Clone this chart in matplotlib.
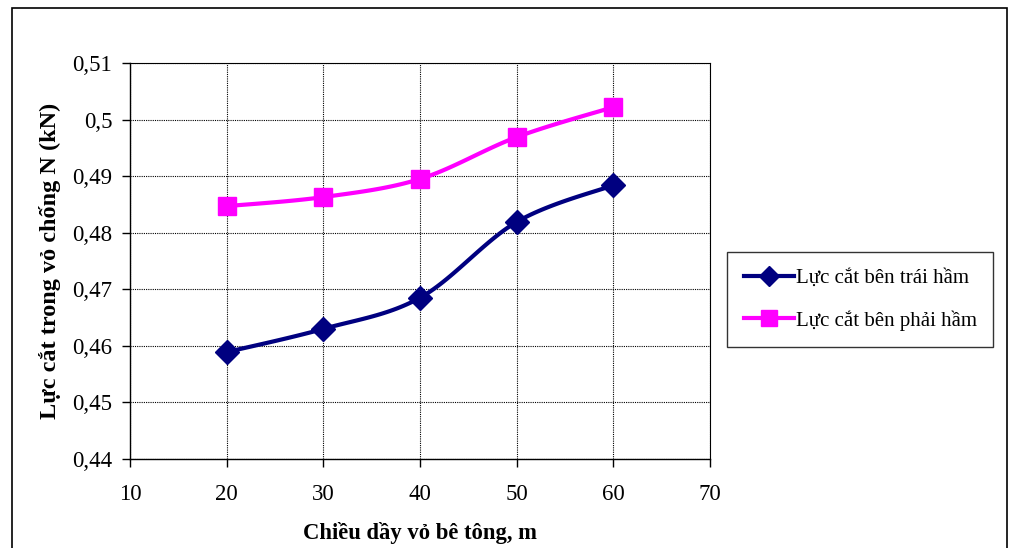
import numpy as np
import matplotlib
matplotlib.use("Agg")
import matplotlib.pyplot as plt
from matplotlib.patches import Rectangle
from matplotlib.ticker import FuncFormatter, MultipleLocator

plt.rcParams['font.family'] = ['Liberation Serif', 'DejaVu Serif']

thickness = [20, 30, 40, 50, 60]
left_force = [0.4589, 0.4630, 0.4685, 0.4819, 0.4884]
right_force = [0.4847, 0.4863, 0.4895, 0.4969, 0.5022]
series_names = ["Lực cắt bên trái hầm", "Lực cắt bên phải hầm"]
x_label = "Chiều dầy vỏ bê tông, m"
y_label = "Lực cắt trong vỏ chống N (kN)"


def smooth(x, y, n=30):
    """Catmull-Rom style smoothing through every point."""
    x = np.asarray(x, float)
    y = np.asarray(y, float)
    px = np.concatenate([[x[0]], x, [x[-1]]])
    py = np.concatenate([[y[0]], y, [y[-1]]])
    xs, ys = [], []
    t = np.linspace(0, 1, n)
    for i in range(1, len(px) - 2):
        p0 = np.array([px[i], py[i]])
        p3 = np.array([px[i + 1], py[i + 1]])
        c1 = p0 + (np.array([px[i + 1], py[i + 1]]) - np.array([px[i - 1], py[i - 1]])) / 6
        c2 = p3 - (np.array([px[i + 2], py[i + 2]]) - np.array([px[i], py[i]])) / 6
        b = ((1 - t) ** 3)[:, None] * p0 + (3 * (1 - t) ** 2 * t)[:, None] * c1 \
            + (3 * (1 - t) * t ** 2)[:, None] * c2 + (t ** 3)[:, None] * p3
        xs.extend(b[:, 0])
        ys.extend(b[:, 1])
    return np.array(xs), np.array(ys)


fig = plt.figure(figsize=(10.14, 5.48), dpi=100)
ax = fig.add_axes([130 / 1014, 89 / 548, 580 / 1014, 396 / 548])

navy = "#000080"
magenta = "#FF00FF"

sx, sy = smooth(thickness, left_force)
ax.plot(sx, sy, color=navy, lw=3, zorder=3)
ax.plot(thickness, left_force, ls="none", marker="D", ms=12, color=navy, zorder=4)
sx, sy = smooth(thickness, right_force)
ax.plot(sx, sy, color=magenta, lw=3, zorder=3)
ax.plot(thickness, right_force, ls="none", marker="s", ms=13.5, color=magenta, zorder=4)

# legend proxies
h1, = ax.plot([], [], color=navy, lw=3, marker="D", ms=10)
h2, = ax.plot([], [], color=magenta, lw=3, marker="s", ms=11)

ax.set_xlim(10, 70)
ax.set_ylim(0.44, 0.51)
ax.xaxis.set_major_locator(MultipleLocator(10))
ax.yaxis.set_major_locator(MultipleLocator(0.01))
ax.yaxis.set_major_formatter(FuncFormatter(lambda v, p: ("%g" % round(v, 4)).replace(".", ",")))

ax.grid(True, color="black", lw=0.8, ls=(0, (1, 1)))
ax.tick_params(direction="out", width=1, labelsize=16.5)
ax.tick_params(axis="y", length=5.8, pad=7)
ax.tick_params(axis="x", length=6, pad=12)
for s in ("left", "bottom"):
    ax.spines[s].set_color("black")
    ax.spines[s].set_linewidth(1)
for s in ("top", "right"):
    ax.spines[s].set_color("black")
    ax.spines[s].set_linewidth(0.8)
    ax.spines[s].set_linestyle((0, (1, 1)))

ax.set_xlabel(x_label, fontsize=16.3, fontweight="bold", labelpad=12)
ax.set_ylabel(y_label, fontsize=17.5, fontweight="bold", labelpad=8)

leg = fig.legend([h1, h2], series_names, loc="upper left",
                 bbox_to_anchor=(727 / 1014, 1 - 252 / 548), fontsize=15,
                 frameon=True, fancybox=False, shadow=False, edgecolor="black",
                 handlelength=2.4, handletextpad=0.1, borderpad=0.8, labelspacing=1.05,
                 borderaxespad=0)
leg.get_frame().set_linewidth(1)

fig.patches.append(Rectangle((12 / 1014, -0.1), 995 / 1014, 0.1 + (548 - 8) / 548,
                             transform=fig.transFigure, fill=False,
                             edgecolor="black", lw=1.2))

fig.savefig("out.png", dpi=100)
